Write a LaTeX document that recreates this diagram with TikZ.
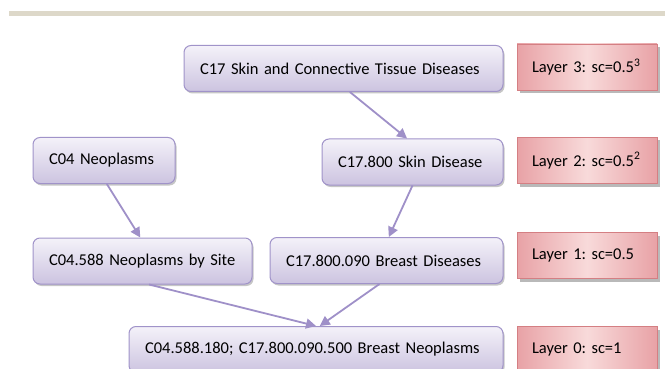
\documentclass[tikz,border=0pt]{standalone}
\usepackage{fontspec}
\setmainfont{Carlito}
\usetikzlibrary{arrows.meta,shadows,calc}
\definecolor{pborder}{HTML}{A093C9}
\definecolor{ptop}{HTML}{F4F2F9}
\definecolor{pbot}{HTML}{CCC3E0}
\definecolor{lborder}{HTML}{D47F83}
\definecolor{ledge}{HTML}{E8A2A6}
\definecolor{lmid}{HTML}{F8DADA}
\definecolor{arrowc}{HTML}{9F90C8}
\definecolor{barc}{HTML}{DDD8C9}
\begin{document}
\frenchspacing
\begin{tikzpicture}[x=1pt,y=-1pt,
  pbox/.style={draw=pborder, line width=1pt, rounded corners=7pt,
    top color=ptop, bottom color=pbot, minimum height=46pt,
    inner xsep=16pt, align=left, font=\fontsize{16.5}{19}\selectfont\frenchspacing,
    drop shadow={shadow xshift=1.5pt, shadow yshift=-2pt, fill=black!50, opacity=0.45}},
  lbox/.style={draw=lborder, line width=0.8pt, left color=ledge, right color=ledge,
    middle color=lmid, minimum height=46pt, text width=110pt,
    inner xsep=15pt, align=left, font=\fontsize{16.5}{19}\selectfont\frenchspacing,
    drop shadow={shadow xshift=3pt, shadow yshift=-3pt, fill=black!55, opacity=0.5}},
  conn/.style={draw=arrowc, line width=1.8pt, -{Triangle[length=10pt,width=10pt]}}]
\useasboundingbox (0,0) rectangle (665,369);
\fill[barc] (9,11) rectangle (665,16);

\node[pbox, text width=287pt] (c17) at (343.5,68.5) {C17 Skin and Connective Tissue Diseases};
\node[pbox, text width=110pt] (c04) at (104,160.5) {C04 Neoplasms};
\node[pbox, text width=149pt] (c17800) at (412.5,162) {C17.800 Skin Disease};
\node[pbox, text width=187pt] (c04588) at (142.5,261) {C04.588 Neoplasms by Site};
\node[pbox, text width=201pt] (c17800090) at (386.5,260.5) {C17.800.090 Breast Diseases};
\node[pbox, text width=342pt] (bottom) at (316,349.5) {C04.588.180; C17.800.090.500 Breast Neoplasms};

\node[lbox] (l3) at (587,67) {Layer 3: sc=0.5\textsuperscript{3}};
\node[lbox] (l2) at (587,160.5) {Layer 2: sc=0.5\textsuperscript{2}};
\node[lbox] (l1) at (587,255.5) {Layer 1: sc=0.5};
\node[lbox] (l0) at (587,349.5) {Layer 0: sc=1};

\draw[conn] ($(c17.south west)!0.52!(c17.south east)$) -- ($(c17800.north west)!0.47!(c17800.north east)$);
\draw[conn] ($(c04.south west)!0.52!(c04.south east)$) -- ($(c04588.north west)!0.49!(c04588.north east)$);
\draw[conn] ($(c17800.south west)!0.50!(c17800.south east)$) -- ($(c17800090.north west)!0.51!(c17800090.north east)$);
\draw[conn] ($(c04588.south west)!0.53!(c04588.south east)$) -- ($(bottom.north west)!0.50!(bottom.north east)$);
\draw[conn] ($(c17800090.south west)!0.47!(c17800090.south east)$) -- ($(bottom.north west)!0.51!(bottom.north east)$);
\end{tikzpicture}
\end{document}
